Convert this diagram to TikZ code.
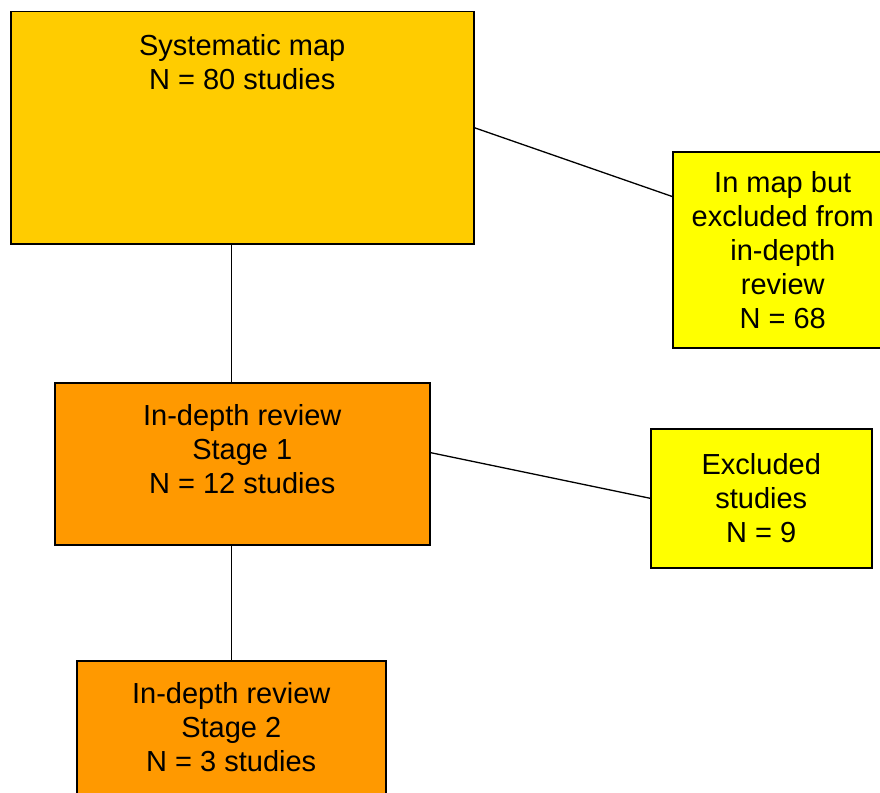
\documentclass[tikz,border=0pt]{standalone}
\usepackage{fontspec}
\setmainfont{Liberation Sans}
\usetikzlibrary{calc}
\definecolor{gold}{HTML}{FFCC00}
\definecolor{orng}{HTML}{FF9900}
\definecolor{yell}{HTML}{FFFF00}
\tikzset{
  box/.style={draw=black, line width=1.5pt, rectangle, inner sep=0pt, anchor=north west},
  txt/.style={align=center, inner sep=0pt, font=\fontsize{29}{34}\selectfont},
  conn/.style={draw=black, line width=1.3pt}
}
\begin{document}
\begin{tikzpicture}[x=1pt,y=-1pt]
\useasboundingbox (0,0) rectangle (880,792);
\clip (0,0) rectangle (880,792);
% boxes
\node[box, fill=gold, minimum width=463pt, minimum height=232pt] (b1) at (10,11) {};
\node[box, fill=yell, minimum width=220pt, minimum height=196pt, txt] (b2) at (672,151) {In map but\\excluded from\\in-depth\\review\\N = 68};
\node[box, fill=orng, minimum width=375pt, minimum height=162pt] (b3) at (54,382) {};
\node[box, fill=yell, minimum width=221pt, minimum height=139pt, txt] (b4) at (650,428) {Excluded\\studies\\N = 9};
\node[box, fill=orng, minimum width=309pt, minimum height=180pt] (b5) at (76,660) {};
% texts in top-anchored boxes
\node[txt, anchor=north] (t1) at ($(b1.north)+(0,23)$) {Systematic map\\N = 80 studies};
\node[txt, anchor=north] (t3) at ($(b3.north)+(0,22)$) {In-depth review\\Stage 1\\N = 12 studies};
\node[txt, anchor=north] (t5) at ($(b5.north)+(0,22)$) {In-depth review\\Stage 2\\N = 3 studies};
% connectors
\coordinate (c2) at ($(b2.north west)!0.23!(b2.south west)$);
\coordinate (c3) at ($(b3.north east)!0.432!(b3.south east)$);
\draw[conn] (b1.east) -- (c2);
\draw[conn] (c3) -- (b4.west);
\draw[conn] (b5.north |- b1.south) -- (b5.north |- b3.north);
\draw[conn] (b5.north |- b3.south) -- (b5.north);
\end{tikzpicture}
\end{document}
